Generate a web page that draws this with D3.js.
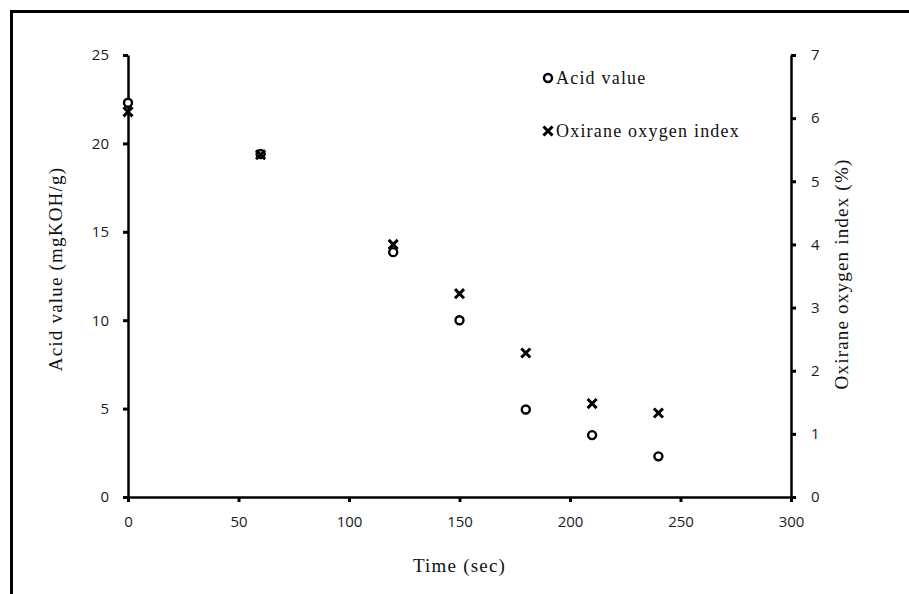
<!DOCTYPE html>
<html>
<head>
<meta charset="utf-8">
<script src="https://cdn.jsdelivr.net/npm/d3@7"></script>
<style>
  body { margin: 0; background: #fff; }
  .tick text { font-family: "Open Sans", sans-serif; font-size: 15px; fill: #1a1a1a; }
  .axis .domain { stroke: #000; stroke-width: 2.5px; }
  .axis .tick line { stroke: #000; stroke-width: 3px; }
  .title { font-family: "Liberation Serif", serif; font-size: 19px; letter-spacing: 1.2px; fill: #111; }
  .legend-text { font-family: "Liberation Serif", serif; font-size: 18px; letter-spacing: 1.2px; fill: #111; }
</style>
</head>
<body>
<div id="chart"></div>
<script>
// --- data ---
const times = [0, 60, 120, 150, 180, 210, 240];
const acidValue = [22.3, 19.4, 13.85, 10.0, 4.95, 3.5, 2.3];
const oxiraneIndex = [6.1, 5.42, 4.0, 3.22, 2.28, 1.48, 1.33];
const xTicks = [0, 50, 100, 150, 200, 250, 300];
const leftTicks = [0, 5, 10, 15, 20, 25];
const rightTicks = [0, 1, 2, 3, 4, 5, 6, 7];

const W = 909, H = 594;
const margin = { top: 55, right: 118, bottom: 97, left: 128 };
const width = W - margin.left - margin.right;
const height = H - margin.top - margin.bottom;

const root = d3.select("#chart").append("svg")
    .attr("width", W)
    .attr("height", H);

// outer frame (only top + left edges show in the original)
root.append("path")
    .attr("d", `M11.5,${H} V11.5 H${W}`)
    .attr("fill", "none")
    .attr("stroke", "#000")
    .attr("stroke-width", 3);

const svg = root.append("g")
    .attr("transform", `translate(${margin.left},${margin.top})`);

const x = d3.scaleLinear().domain([0, 300]).range([0, width]);
const yL = d3.scaleLinear().domain([0, 25]).range([height, 0]);
const yR = d3.scaleLinear().domain([0, 7]).range([height, 0]);

svg.append("g")
    .attr("class", "axis")
    .attr("transform", `translate(0,${height})`)
    .call(d3.axisBottom(x).tickValues(xTicks).tickFormat(d3.format("d"))
        .tickSize(5).tickSizeOuter(0).tickPadding(14));

svg.append("g")
    .attr("class", "axis")
    .call(d3.axisLeft(yL).tickValues(leftTicks).tickFormat(d3.format("d"))
        .tickSize(5).tickSizeOuter(0).tickPadding(14));

svg.append("g")
    .attr("class", "axis")
    .attr("transform", `translate(${width},0)`)
    .call(d3.axisRight(yR).tickValues(rightTicks).tickFormat(d3.format("d"))
        .tickSize(5).tickSizeOuter(0).tickPadding(15));

// axis titles
svg.append("text").attr("class", "title")
    .attr("x", width / 2).attr("y", height + 75)
    .attr("text-anchor", "middle")
    .text("Time (sec)");

svg.append("text").attr("class", "title")
    .attr("transform", `translate(-66,${height / 2 - 7}) rotate(-90)`)
    .attr("text-anchor", "middle")
    .text("Acid value (mgKOH/g)");

svg.append("text").attr("class", "title")
    .attr("transform", `translate(${width + 57},${height / 2 - 2}) rotate(-90)`)
    .attr("text-anchor", "middle")
    .text("Oxirane oxygen index (%)");

// markers
const acidPts = times.map((t, i) => ({ t, v: acidValue[i] }));
const oxPts = times.map((t, i) => ({ t, v: oxiraneIndex[i] }));

svg.selectAll(".acid")
    .data(acidPts)
    .enter().append("circle")
    .attr("class", "acid")
    .attr("cx", d => x(d.t))
    .attr("cy", d => yL(d.v))
    .attr("r", 4)
    .attr("fill", "#fff")
    .attr("stroke", "#000")
    .attr("stroke-width", 2.4);

const cross = d3.symbol().type(d3.symbolX).size(55);
svg.selectAll(".ox")
    .data(oxPts)
    .enter().append("path")
    .attr("class", "ox")
    .attr("transform", d => `translate(${x(d.t)},${yR(d.v)})`)
    .attr("d", cross)
    .attr("stroke", "#000")
    .attr("stroke-width", 3);

// legend
const legend = root.append("g").attr("transform", "translate(548,0)");
legend.append("circle")
    .attr("cx", 0).attr("cy", 78).attr("r", 4)
    .attr("fill", "#fff").attr("stroke", "#000").attr("stroke-width", 2.4);
legend.append("text").attr("class", "legend-text")
    .attr("x", 8).attr("y", 84).text("Acid value");
legend.append("path")
    .attr("transform", "translate(0,131)")
    .attr("d", cross)
    .attr("stroke", "#000").attr("stroke-width", 3);
legend.append("text").attr("class", "legend-text")
    .attr("x", 8).attr("y", 137).text("Oxirane oxygen index");
</script>
</body>
</html>
